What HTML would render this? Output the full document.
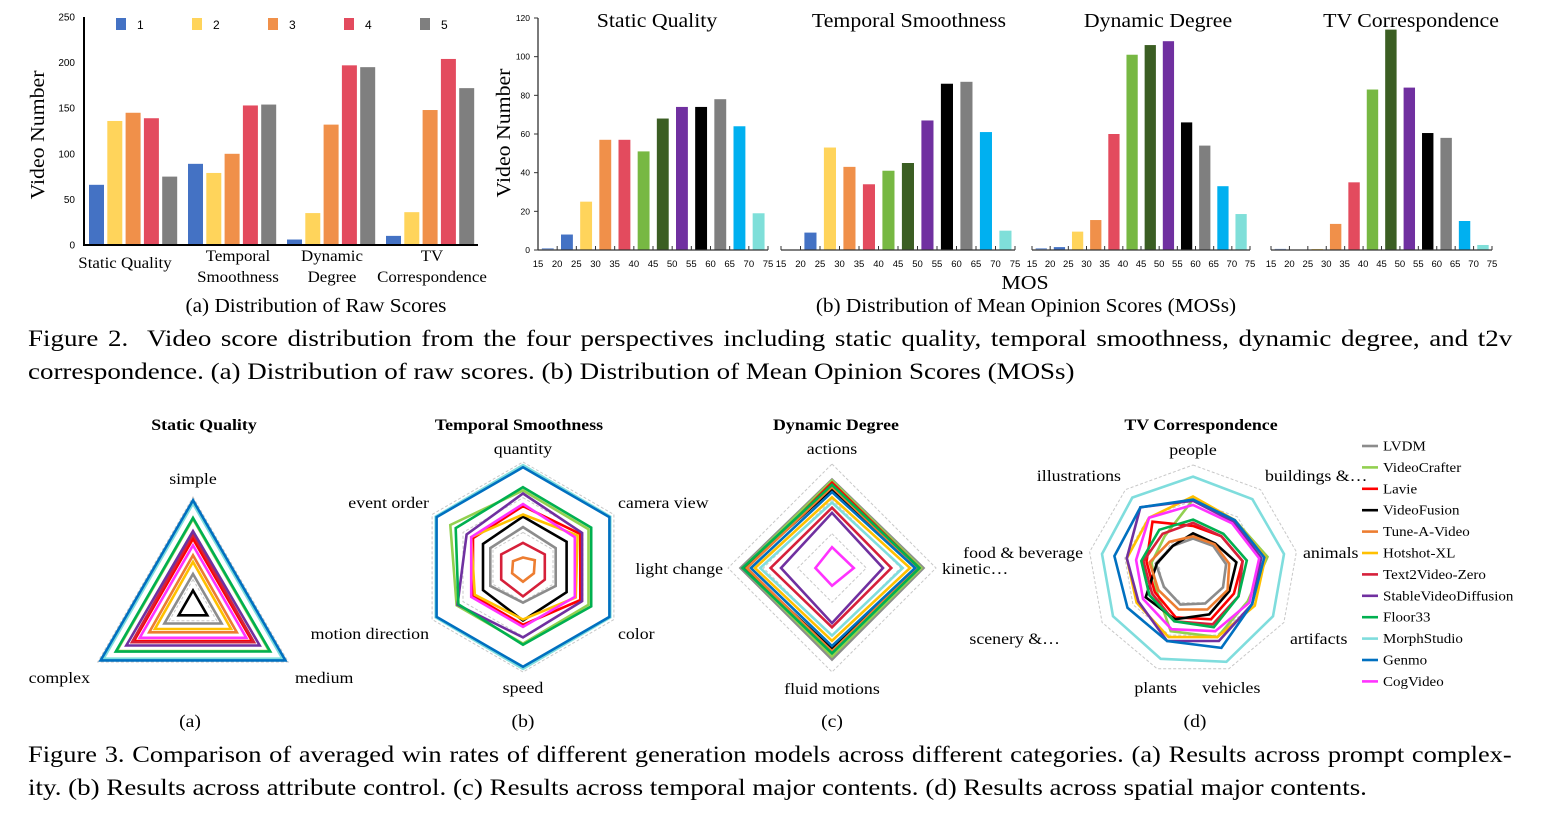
<!DOCTYPE html>
<html><head><meta charset="utf-8">
<style>
body{margin:0;background:#fff;}
#root{position:relative;width:1558px;height:813px;overflow:hidden;font-family:"Liberation Serif",serif;}
svg{position:absolute;left:0;top:0;}
.cap{position:absolute;left:28px;font-family:"Liberation Serif",serif;font-size:23.5px;color:#000;white-space:nowrap;transform:scaleX(1.147);transform-origin:0 0;}
.just{width:1294px;text-align:justify;text-align-last:justify;white-space:normal;}
.just2{width:1320px;transform:scaleX(1.124);}
</style></head>
<body>
<div id="root">
<svg id="svg" width="1558" height="813" xmlns="http://www.w3.org/2000/svg">
 <g id="statictext" font-family="Liberation Serif, serif" fill="#000">
  <text x="44" y="135" font-size="20" transform="rotate(-90 44 135)" text-anchor="middle">Video Number</text>
  <text x="125" y="268" font-size="15.5" text-anchor="middle">Static Quality</text>
  <text x="238" y="261" font-size="15.5" text-anchor="middle">Temporal</text>
  <text x="238" y="282" font-size="15.5" text-anchor="middle">Smoothness</text>
  <text x="332" y="261" font-size="15.5" text-anchor="middle">Dynamic</text>
  <text x="332" y="282" font-size="15.5" text-anchor="middle">Degree</text>
  <text x="432" y="261" font-size="15.5" text-anchor="middle">TV</text>
  <text x="432" y="282" font-size="15.5" text-anchor="middle">Correspondence</text>
  <text x="316" y="312" font-size="19.5" text-anchor="middle">(a) Distribution of Raw Scores</text>
  <text x="510" y="133" font-size="20" transform="rotate(-90 510 133)" text-anchor="middle">Video Number</text>
  <text x="657" y="27" font-size="20" text-anchor="middle">Static Quality</text>
  <text x="909" y="27" font-size="20" text-anchor="middle">Temporal Smoothness</text>
  <text x="1158" y="27" font-size="20" text-anchor="middle">Dynamic Degree</text>
  <text x="1411" y="27" font-size="20" text-anchor="middle">TV Correspondence</text>
  <text x="1025" y="289" font-size="20" text-anchor="middle">MOS</text>
  <text x="1026" y="312" font-size="19.5" text-anchor="middle">(b) Distribution of Mean Opinion Scores (MOSs)</text>

  <g class="wide" font-weight="bold" font-size="15.5" text-anchor="middle">
   <text x="204" y="430">Static Quality</text>
   <text x="519" y="430">Temporal Smoothness</text>
   <text x="836" y="430">Dynamic Degree</text>
   <text x="1201" y="430">TV Correspondence</text>
  </g>
  <g class="wide" font-size="15.5">
   <text x="193" y="484" text-anchor="middle">simple</text>
   <text x="295" y="683">medium</text>
   <text x="90" y="683" text-anchor="end">complex</text>
   <text x="523" y="454" text-anchor="middle">quantity</text>
   <text x="618" y="508">camera view</text>
   <text x="618" y="639">color</text>
   <text x="523" y="693" text-anchor="middle">speed</text>
   <text x="429" y="639" text-anchor="end">motion direction</text>
   <text x="429" y="508" text-anchor="end">event order</text>
   <text x="832" y="454" text-anchor="middle">actions</text>
   <text x="942" y="574">kinetic…</text>
   <text x="832" y="694" text-anchor="middle">fluid motions</text>
   <text x="723" y="574" text-anchor="end">light change</text>
   <text x="1193" y="455" text-anchor="middle">people</text>
   <text x="1265" y="481">buildings &amp;…</text>
   <text x="1303" y="558">animals</text>
   <text x="1290" y="644">artifacts</text>
   <text x="1202" y="693">vehicles</text>
   <text x="1177" y="693" text-anchor="end">plants</text>
   <text x="1060" y="644" text-anchor="end">scenery &amp;…</text>
   <text x="1083" y="558" text-anchor="end">food &amp; beverage</text>
   <text x="1121" y="481" text-anchor="end">illustrations</text>
  </g>
  <g font-size="18" text-anchor="middle">
   <text x="190" y="727">(a)</text>
   <text x="523" y="727">(b)</text>
   <text x="832" y="727">(c)</text>
   <text x="1195" y="727">(d)</text>
  </g>
 </g>
 <g id="marks"></g>
</svg>
<div class="cap just" style="top:326px">Figure 2.&nbsp; Video score distribution from the four perspectives including static quality, temporal smoothness, dynamic degree, and t2v</div>
<div class="cap" style="top:359px">correspondence. (a) Distribution of raw scores. (b) Distribution of Mean Opinion Scores (MOSs)</div>
<div class="cap just just2" style="top:742px">Figure 3. Comparison of averaged win rates of different generation models across different categories. (a) Results across prompt complex-</div>
<div class="cap" style="top:775px">ity. (b) Results across attribute control. (c) Results across temporal major contents. (d) Results across spatial major contents.</div>
</div>
<script>
// ---- raw score data ----
const rawCategories = ["Static Quality","Temporal Smoothness","Dynamic Degree","TV Correspondence"];
const rawScoreLevels = ["1","2","3","4","5"];
const rawStatic = [66,136,145,139,75];
const rawTemporal = [89,79,100,153,154];
const rawDynamic = [6,35,132,197,195];
const rawTV = [10,36,148,204,172];
const rawTicks = [0,50,100,150,200,250];
// ---- MOS data ----
const mosTickLabels = ["15","20","25","30","35","40","45","50","55","60","65","70","75"];
const mosStatic = [1,8,25,57,57,51,68,74,74,78,64,19];
const mosTemporal = [0,9,53,43,34,41,45,67,86,87,61,10];
const mosDynamic = [1,1.5,9.5,15.5,60,101,106,108,66,54,33,18.6];
const mosTV = [0.6,0,0.5,13.5,35,83,114,84,60.5,58,15,2.6];
const mosYTicks = [0,20,40,60,80,100,120];
// ---- radar data ----
const models = ["LVDM","VideoCrafter","Lavie","VideoFusion","Tune-A-Video","Hotshot-XL","Text2Video-Zero","StableVideoDiffusion","Floor33","MorphStudio","Genmo","CogVideo"];
const complexityAxes = ["simple","medium","complex"];
const complexityValues = [[0.3,0.3,0.3],[0.8,0.8,0.8],[0.62,0.62,0.62],[0.15,0.15,0.15],[0.47,0.46,0.46],[0.41,0.40,0.40],[0.66,0.64,0.64],[0.69,0.70,0.70],[0.81,0.81,0.81],[0.94,0.94,0.94],[0.97,0.97,0.97],[0.56,0.56,0.56]];
const attributeAxes = ["quantity","camera view","color","speed","motion direction","event order"];
const attributeValues = [[0.38,0.36,0.36,0.34,0.36,0.36],[0.73,0.72,0.72,0.73,0.73,0.80],[0.58,0.63,0.63,0.55,0.55,0.55],[0.48,0.48,0.48,0.51,0.44,0.44],[0.09,0.13,0.12,0.14,0.12,0.11],[0.50,0.60,0.58,0.50,0.53,0.57],[0.23,0.24,0.24,0.28,0.24,0.24],[0.70,0.65,0.65,0.67,0.72,0.62],[0.76,0.75,0.75,0.74,0.71,0.74],[0.97,0.96,0.96,0.97,0.96,0.96],[0.95,0.95,0.95,0.95,0.95,0.95],[0.60,0.57,0.57,0.57,0.57,0.57]];
const temporalAxes = ["actions","kinetic…","fluid motions","light change"];
const temporalValues = [[0.85,0.88,0.88,0.88],[0.84,0.86,0.85,0.86],[0.82,0.84,0.80,0.82],[0.76,0.80,0.78,0.84],[0.78,0.82,0.80,0.82],[0.68,0.75,0.70,0.74],[0.58,0.57,0.57,0.59],[0.53,0.49,0.53,0.49],[0.80,0.84,0.82,0.86],[0.63,0.68,0.65,0.69],[0.73,0.80,0.75,0.78],[0.20,0.21,0.17,0.16]];
const spatialAxes = ["people","buildings &…","animals","artifacts","vehicles","plants","scenery &…","food & beverage","illustrations"];
const spatialValues = [[0.30,0.30,0.32,0.33,0.34,0.35,0.32,0.36,0.30],[0.67,0.62,0.72,0.60,0.68,0.62,0.40,0.40,0.42],[0.42,0.42,0.48,0.45,0.50,0.48,0.42,0.45,0.60],[0.35,0.33,0.42,0.40,0.45,0.50,0.52,0.35,0.30],[0.32,0.32,0.35,0.38,0.40,0.40,0.38,0.42,0.35],[0.70,0.62,0.70,0.68,0.68,0.68,0.62,0.64,0.65],[0.45,0.42,0.48,0.50,0.55,0.52,0.45,0.48,0.45],[0.66,0.60,0.66,0.65,0.72,0.72,0.60,0.64,0.78],[0.48,0.45,0.52,0.50,0.58,0.52,0.48,0.50,0.50],[0.89,0.88,0.88,0.88,0.93,0.90,0.88,0.88,0.90],[0.67,0.62,0.69,0.65,0.79,0.72,0.72,0.76,0.78],[0.62,0.58,0.64,0.62,0.62,0.60,0.55,0.55,0.65]];

const NS="http://www.w3.org/2000/svg";
const marks=document.getElementById('marks');
function mk(tag,attrs,parent){const e=document.createElementNS(NS,tag);for(const k in attrs)e.setAttribute(k,attrs[k]);(parent||marks).appendChild(e);return e;}

// ---- chart (a) raw scores ----
const rawColors=["#4472C4","#FFD45B","#F0904A","#E34B5E","#7F7F7F"];
const rawSeries=[rawStatic,rawTemporal,rawDynamic,rawTV];
const rawY=v=>245-v*228/250;
const rawX=(g,i)=>89+g*99+i*18.3;
rawTicks.forEach(t=>{
  const tx=mk('text',{x:75,y:rawY(t)+3.5,'font-size':10,'text-anchor':'end','font-family':'Liberation Sans, sans-serif'});
  tx.textContent=t;
  
  
});
rawSeries.forEach((s,g)=>s.forEach((v,i)=>{
  const r=mk('rect',{x:rawX(g,i),y:rawY(v),width:15,height:245-rawY(v),fill:rawColors[i]});
  
  
}));
let ax=mk('path',{d:'M84 17 V245 H478',stroke:'#000','stroke-width':2,fill:'none'});


rawScoreLevels.forEach((l,i)=>{
  const sq=mk('rect',{x:116+i*76,y:18,width:10,height:12,fill:rawColors[i]});
  
  
  const t=mk('text',{x:137+i*76,y:29,'font-size':12,'font-family':'Liberation Sans, sans-serif'});
  t.textContent=l;
  
  
});

// ---- chart (b) MOS ----
const mosColors=["#8FAADC","#4472C4","#FFD45B","#F0904A","#E34B5E","#77B843","#3B5E23","#7030A0","#000000","#7F7F7F","#00B0F0","#7FDFD9"];
const mosPanels=[[538,768,mosStatic],[781,1015,mosTemporal],[1032,1250,mosDynamic],[1271,1492,mosTV]];
const mosY=v=>250-v*232/120;
mosPanels.forEach((p,pi)=>{
  const [x0,x1,vals]=p;const slot=(x1-x0)/12;
  vals.forEach((v,i)=>{
    const r=mk('rect',{x:x0+slot*(i+0.2),y:mosY(v),width:slot*0.62,height:250-mosY(v),fill:mosColors[i]});
    
    
  });
  const a=mk('path',{d:'M'+x0+' 250 H'+x1+(pi==0?' M'+x0+' 250 V18':''),stroke:'#333','stroke-width':1.3,fill:'none'});
  
  
  mosTickLabels.forEach((l,i)=>{
    const x=x0+slot*i;
    mk('line',{x1:x,x2:x,y1:250,y2:246,stroke:'#333','stroke-width':1});
    const t=mk('text',{x:x,y:267,'font-size':9.5,'text-anchor':'middle','font-family':'Liberation Sans, sans-serif'});
    t.textContent=l;
    
    
  });
});
mosYTicks.forEach(t=>{
  mk('line',{x1:534,x2:538,y1:mosY(t),y2:mosY(t),stroke:'#333'});
  const tx=mk('text',{x:530,y:mosY(t)+3,'font-size':8.5,'text-anchor':'end','font-family':'Liberation Sans, sans-serif'});
  tx.textContent=t;
  
  
});

// ---- radars ----
const modelColors=["#8C8C8C","#92D050","#FF0000","#000000","#ED7D31","#FFC000","#D6203A","#7030A0","#00B050","#7FDDDD","#0070C0","#FF33FF"];
function radar(name,cx,cy,R,axes,values,levels){
  const n=axes.length;
  const pt=(i,r)=>{const a=-Math.PI/2+2*Math.PI*i/n;return [cx+R*r*Math.cos(a),cy+R*r*Math.sin(a)];};
  levels.forEach(l=>{
    const d=axes.map((_,i)=>pt(i,l).map(v=>v.toFixed(1)).join(',')).join(' ');
    const g=mk('polygon',{points:d,fill:'none',stroke:'#c8c8c8','stroke-width':1,'stroke-dasharray':'3,2'});
    
    
  });
  values.forEach((vals,m)=>{
    const d=vals.map((v,i)=>pt(i,v).map(x=>x.toFixed(1)).join(',')).join(' ');
    const p=mk('polygon',{points:d,fill:'none',stroke:modelColors[m],'stroke-width':2.6,'stroke-linejoin':'miter'});
    
    
  });
}
radar('radar-a',193,607,110,complexityAxes,complexityValues,[0.25,0.55,1.0]);
radar('radar-b',523,567,105,attributeAxes,attributeValues,[0.33,0.66,1.0]);
radar('radar-c',832,568,104,temporalAxes,temporalValues,[0.33,0.66,1.0]);
radar('radar-d',1193,570,105,spatialAxes,spatialValues,[0.33,0.66,1.0]);

// legend
models.forEach((m,i)=>{
  const y=446+i*21.4;
  const l=mk('line',{x1:1362,x2:1378,y1:y,y2:y,stroke:modelColors[i],'stroke-width':2.6});
  
  
  const t=mk('text',{x:1383,y:y+4.5,'font-size':13.5,'font-family':'Liberation Serif, serif',class:'legtext'});
  t.textContent=m;
  
  
});

// widen serif text to match reference typeface metrics
function stretch(el,f){const w=el.getComputedTextLength();if(w>0){el.setAttribute('textLength',(w*f).toFixed(1));el.setAttribute('lengthAdjust','spacingAndGlyphs');}}
document.querySelectorAll('#statictext text').forEach(el=>{
  const wide=el.parentNode.classList && el.parentNode.classList.contains('wide');
  stretch(el,wide?1.15:1.09);
});
document.querySelectorAll('.legtext').forEach(el=>stretch(el,1.11));
</script>
</body></html>
